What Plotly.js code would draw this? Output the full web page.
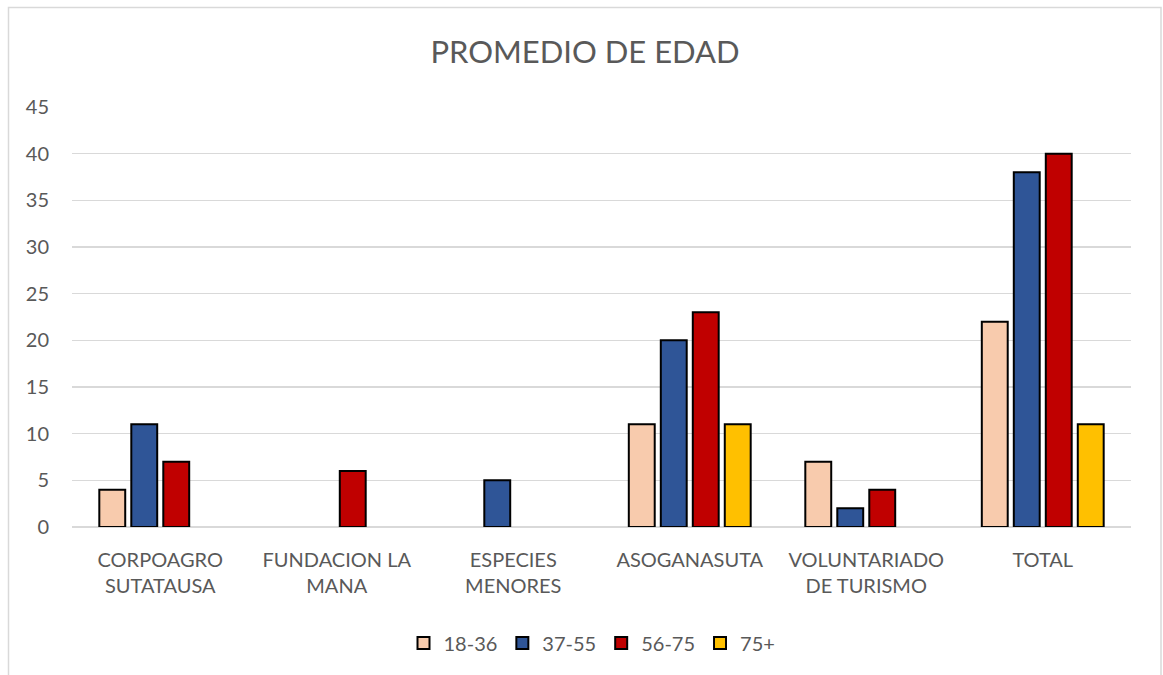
<!DOCTYPE html>
<html>
<head>
<meta charset="utf-8">
<script src="https://cdn.plot.ly/plotly-3.0.1.min.js"></script>
<style>html,body{margin:0;padding:0;background:#fff;}#chart{width:1163px;height:675px;}</style>
</head>
<body>
<div id="chart"></div>
<script>
const categories = ["CORPOAGRO<br>SUTATAUSA", "FUNDACION LA<br>MANA", "ESPECIES<br>MENORES", "ASOGANASUTA", "VOLUNTARIADO<br>DE TURISMO", "TOTAL"];
const seriesNames = ["18-36", "37-55", "56-75", "75+"];
const s18_36 = [4, null, null, 11, 7, 22];
const s37_55 = [11, null, 5, 20, 2, 38];
const s56_75 = [7, 6, null, 23, 4, 40];
const s75plus = [null, null, null, 11, null, 11];
const yTicks = [0, 5, 10, 15, 20, 25, 30, 35, 40, 45];

const colors = ["#F8CBAD", "#2F5597", "#C00000", "#FFC000"];
const values = [s18_36, s37_55, s56_75, s75plus];
const FONT = "Lato, 'Open Sans', sans-serif";

const data = values.map((v, i) => ({
  type: "bar",
  name: seriesNames[i],
  x: categories,
  y: v,
  marker: {color: colors[i], line: {color: "#000000", width: 2}},
  hoverinfo: "x+y+name"
}));

const L = 72, R = 1131, T = 107, B = 527;
const W = R - L, H = B - T;
const px = x => (x - L) / W;
const py = y => (B - y) / H;

const layout = {
  width: 1163, height: 675,
  margin: {l: L, r: 1163 - R, t: T, b: 675 - B, pad: 0},
  paper_bgcolor: "#ffffff",
  plot_bgcolor: "#ffffff",
  font: {family: FONT, color: "#595959", size: 20},
  title: {text: "PROMEDIO DE EDAD", font: {family: FONT, size: 31, color: "#595959"},
          x: 585 / 1163, xanchor: "center", y: 1 - 52/675, yanchor: "middle", xref: "container"},
  barmode: "group",
  bargap: 0.275,
  bargroupgap: 0.19,
  showlegend: true,
  legend: {orientation: "h", x: px(592), xanchor: "center", y: py(643), yanchor: "middle",
           font: {family: FONT, size: 20, color: "#595959"}, itemwidth: 30, traceorder: "normal"},
  xaxis: {
    type: "category",
    showgrid: false, zeroline: false, showline: false, ticks: "",
    tickfont: {family: FONT, size: 20, color: "#595959"},
    ticklabelstandoff: 19,
    automargin: false
  },
  yaxis: {
    range: [0, 45], tickvals: yTicks, ticktext: yTicks.map(String),
    showgrid: true, gridcolor: "#d9d9d9", gridwidth: 1.3,
    zeroline: true, zerolinecolor: "#d9d9d9", zerolinewidth: 1.3,
    showline: false, ticks: "",
    tickfont: {family: FONT, size: 20, color: "#595959"},
    ticklabelstandoff: 22,
    automargin: false, fixedrange: true
  },
  shapes: [{
    type: "rect", xref: "paper", yref: "paper",
    x0: px(8.5), x1: px(1161), y0: py(680), y1: py(7.5),
    line: {color: "#d9d9d9", width: 1.5}, fillcolor: "rgba(0,0,0,0)", layer: "below"
  }]
};

Plotly.newPlot("chart", data, layout, {displayModeBar: false, staticPlot: true});
</script>
</body>
</html>
